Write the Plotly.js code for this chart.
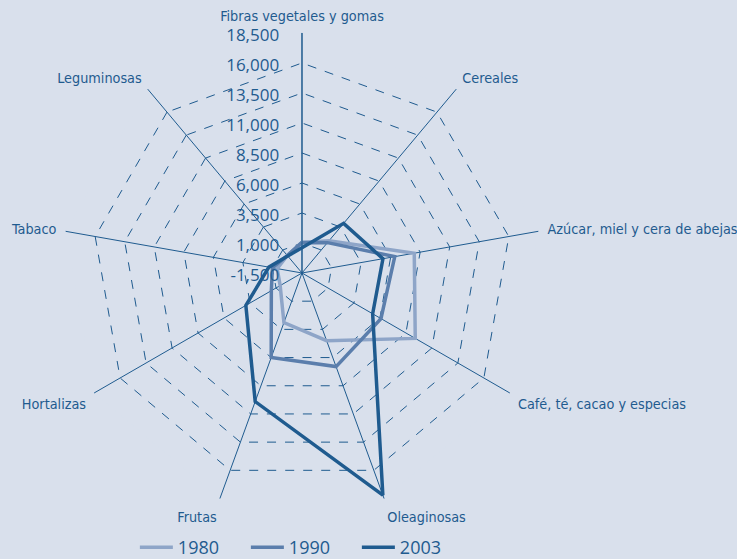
<!DOCTYPE html>
<html>
<head>
<meta charset="utf-8">
<script src="https://cdn.plot.ly/plotly-3.0.1.min.js"></script>
<style>html,body{margin:0;padding:0;background:#d9e0ec;}#chart{width:737px;height:559px;}</style>
</head>
<body>
<div id="chart"></div>
<script>
const categories = ["Fibras vegetales y gomas", "Cereales", "Azúcar, miel y cera de abejas", "Café, té, cacao y especias", "Oleaginosas", "Frutas", "Hortalizas", "Tabaco", "Leguminosas"];
const years = ["1980", "1990", "2003"];
const values1980 = [1050, 2000, 8000, 9400, 4500, 2900, 600, 600, 400];
const values1990 = [1050, 1800, 6350, 6100, 6800, 6000, 1450, 1000, 400];
const values2003 = [600, 3900, 5350, 5300, 18200, 9900, 3900, 1300, 350];
const tickValues = [-1500, 1000, 3500, 6000, 8500, 11000, 13500, 16000, 18500];
const tickLabels = ["-1,500", "1,000", "3,500", "6,000", "8,500", "11,000", "13,500", "16,000", "18,500"];

const colors = ["#8ea5c8", "#5b7eac", "#1f5b8f"];
const series = [values1980, values1990, values2003];
const dark = "#1f5b8f";

const traces = series.map((v, i) => ({
  type: "scatterpolar",
  r: v.concat([v[0]]),
  theta: categories.concat([categories[0]]),
  mode: "lines",
  name: years[i],
  line: {color: colors[i], width: 3.5},
  hoverinfo: "skip"
}));

const layout = {
  width: 737, height: 559,
  paper_bgcolor: "#d9e0ec",
  plot_bgcolor: "#d9e0ec",
  margin: {l: 0, r: 0, t: 0, b: 0, autoexpand: false},
  showlegend: true,
  legend: {
    orientation: "h", x: 0.183, xanchor: "left", y: -0.0125, yanchor: "bottom",
    font: {family: "Open Sans, sans-serif", size: 18, color: dark},
    itemwidth: 33, entrywidth: 63, entrywidthmode: "pixels",
    traceorder: "normal", bgcolor: "rgba(0,0,0,0)"
  },
  polar: {
    domain: {x: [0.0841, 0.7354], y: [0.0823, 0.9410]},
    bgcolor: "#d9e0ec",
    gridshape: "linear",
    angularaxis: {
      rotation: 90, direction: "clockwise",
      showline: false,
      gridcolor: dark, gridwidth: 1,
      ticks: "outside", ticklen: 6, tickcolor: "rgba(0,0,0,0)",
      tickfont: {family: "Liberation Sans Narrow, DejaVu Sans Condensed, sans-serif", size: 14.3, color: dark}
    },
    radialaxis: {
      range: [-1500, 18500],
      angle: 90,
      side: "counterclockwise",
      tickvals: tickValues, ticktext: tickLabels,
      showline: true, linecolor: dark, linewidth: 1,
      ticks: "outside", ticklen: 7, tickcolor: "rgba(0,0,0,0)",
      gridcolor: dark, griddash: "dash", gridwidth: 1,
      tickfont: {family: "Open Sans, sans-serif", size: 17, color: dark}
    }
  }
};

Plotly.newPlot("chart", traces, layout, {displayModeBar: false, staticPlot: true});
</script>
</body>
</html>
